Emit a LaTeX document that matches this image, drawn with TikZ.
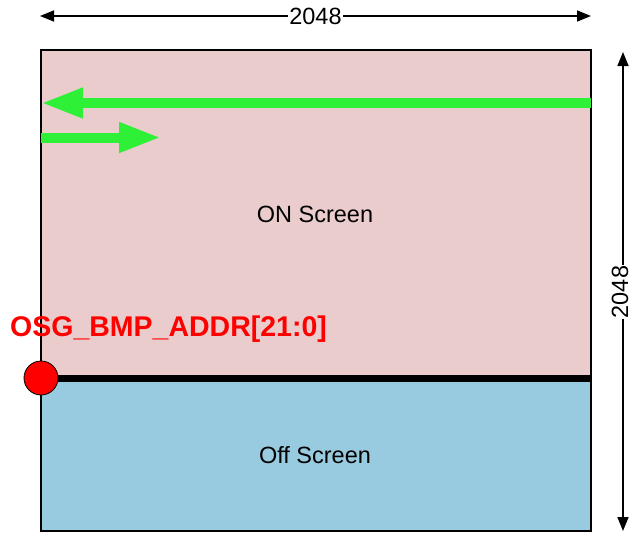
\documentclass[tikz,border=0pt]{standalone}
\usepackage{fontspec}
\setmainfont{Liberation Sans}
\usetikzlibrary{arrows.meta}
\definecolor{onpink}{RGB}{235,204,204}
\definecolor{offblue}{RGB}{153,203,224}
\definecolor{flowgreen}{RGB}{45,240,55}
\begin{document}
\begin{tikzpicture}[x=1pt,y=-1pt,
    dim/.style={line width=1.6pt,{Triangle[length=14pt,width=11pt]}-{Triangle[length=14pt,width=11pt]}},
    flow/.style={flowgreen,line width=10pt,-{Triangle[length=42pt,width=28pt]}},
    txt/.style={font=\fontsize{23.5}{27}\selectfont}]
    \useasboundingbox (0,0) rectangle (633,533);
    \coordinate (TL) at (41,50);
    \coordinate (BR) at (591,531);
    \coordinate (mL) at (41,378);
    \coordinate (mR) at (591,378);
    % Screen areas
    \fill[onpink] (TL) rectangle (mR);
    \fill[offblue] (mL) rectangle (BR);
    \draw[line width=2.5pt] (TL) rectangle (BR);
    \draw[line width=7pt] (mL) -- (mR);
    \node[txt] (on) at (315,214) {ON Screen};
    \node[txt] (off) at (315,455) {Off Screen};
    % Dimensions
    \coordinate (wL) at (40,16);
    \coordinate (wR) at (591,16);
    \coordinate (hT) at (623,52);
    \coordinate (hB) at (623,531);
    \draw[dim] (wL) -- node[txt,fill=white,inner sep=1pt] (w) {2048} (wR);
    \draw[dim] (hT) -- (hB);
    \node[txt,fill=white,inner sep=1pt,rotate=90] (h) at (620,292) {2048};
    % Scan direction
    \coordinate (f1s) at (591,103);
    \coordinate (f1e) at (41,103);
    \coordinate (f2s) at (41,137.5);
    \coordinate (f2e) at (161,137.5);
    \draw[flow] (f1s) -- (f1e);
    \draw[flow] (f2s) -- (f2e);
    % Start address
    \filldraw[fill=red,draw=black,line width=0.8pt] (mL) circle (17pt);
    \node[red,font=\fontsize{28.5}{32}\selectfont\bfseries,anchor=south west,inner sep=0pt] (addr) at (10,343) {OSG\_BMP\_ADDR[21:0]};
\end{tikzpicture}
\end{document}
